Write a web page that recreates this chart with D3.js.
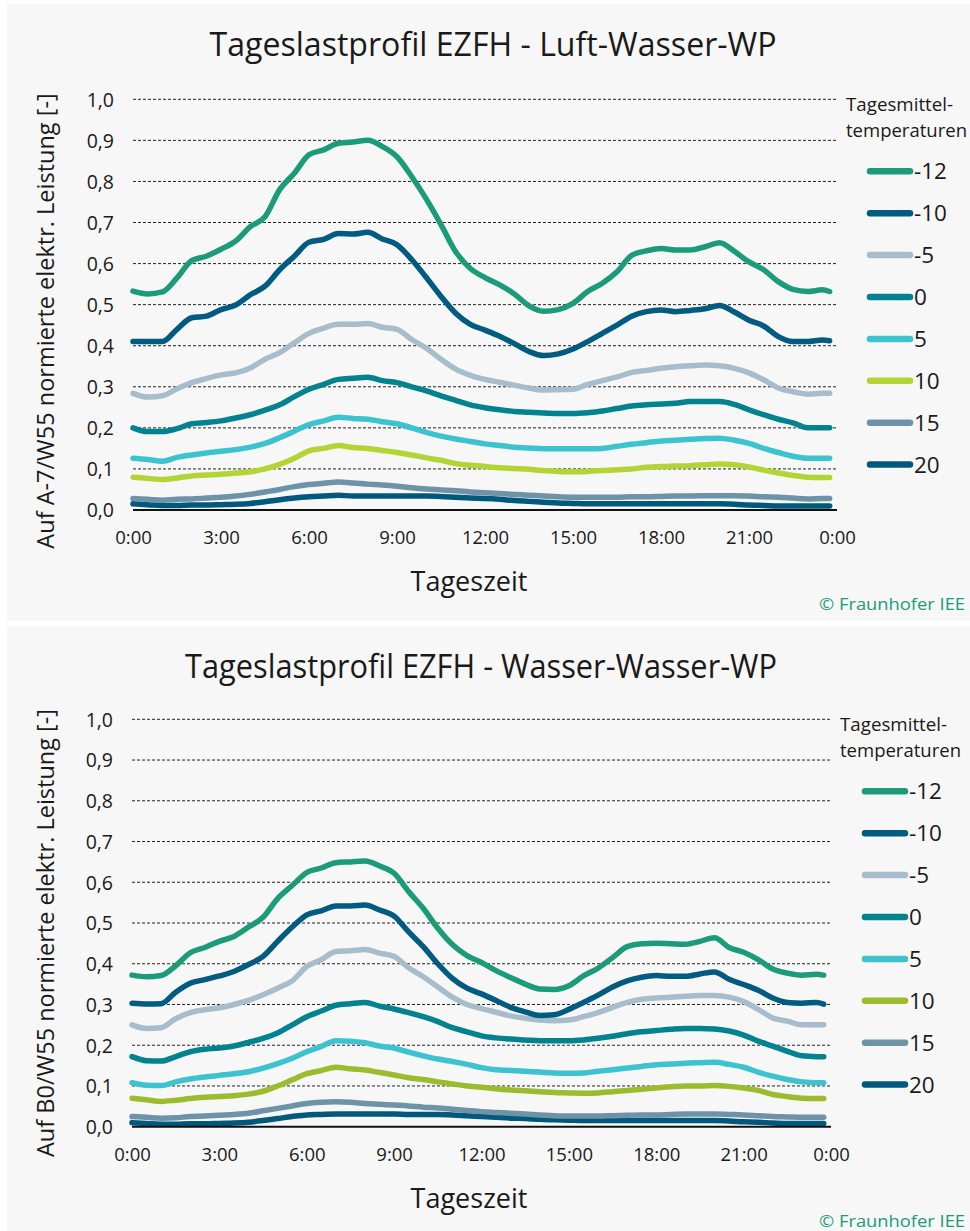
<!DOCTYPE html>
<html>
<head>
<meta charset="utf-8">
<script src="https://cdn.jsdelivr.net/npm/d3@7"></script>
<style>
  html, body { margin: 0; padding: 0; background: #ffffff; }
  svg { display: block; }
  text { font-family: "Open Sans", "Noto Sans", sans-serif; fill: #1a1a1a; }
</style>
</head>
<body>
<svg id="chart" width="970" height="1231"></svg>
<script>
// Zeitachse: halbstündlich, letzter Wert 23:45
const hours = [0,0.5,1,1.5,2,2.5,3,3.5,4,4.5,5,5.5,6,6.5,7,7.5,8,8.5,9,9.5,10,10.5,11,11.5,
  12,12.5,13,13.5,14,14.5,15,15.5,16,16.5,17,17.5,18,18.5,19,19.5,20,20.5,21,21.5,22,22.5,23,23.5,23.75];

const temperatures = ["-12", "-10", "-5", "0", "5", "10", "15", "20"];
const xTickHours = [0, 3, 6, 9, 12, 15, 18, 21, 24];
const xTickLabels = ["0:00", "3:00", "6:00", "9:00", "12:00", "15:00", "18:00", "21:00", "0:00"];
const yTicks = [0, 0.1, 0.2, 0.3, 0.4, 0.5, 0.6, 0.7, 0.8, 0.9, 1.0];

// Luft-Wasser-Wärmepumpe, normiert auf A-7/W55
const lwMinus12 = [0.533,0.526,0.531,0.565,0.607,0.618,0.635,0.655,0.69,0.714,0.78,0.82,0.865,0.877,0.893,0.896,0.9,0.885,0.86,0.812,0.757,0.695,0.629,0.588,
  0.566,0.548,0.526,0.497,0.484,0.488,0.503,0.532,0.552,0.58,0.62,0.631,0.637,0.633,0.633,0.641,0.651,0.63,0.604,0.585,0.556,0.537,0.532,0.536,0.532];
const lwMinus10 = [0.41,0.41,0.41,0.44,0.468,0.472,0.488,0.499,0.524,0.545,0.585,0.618,0.652,0.659,0.673,0.672,0.676,0.66,0.646,0.61,0.566,0.52,0.479,0.452,
  0.438,0.423,0.405,0.386,0.376,0.38,0.392,0.41,0.43,0.45,0.472,0.483,0.487,0.483,0.486,0.49,0.498,0.482,0.462,0.448,0.422,0.41,0.41,0.414,0.412];
const lwMinus5 = [0.284,0.275,0.278,0.295,0.31,0.32,0.329,0.334,0.346,0.367,0.383,0.407,0.43,0.443,0.452,0.452,0.454,0.445,0.44,0.415,0.394,0.367,0.343,0.328,
  0.318,0.311,0.304,0.297,0.292,0.293,0.294,0.306,0.315,0.324,0.335,0.34,0.345,0.349,0.351,0.353,0.351,0.345,0.334,0.317,0.297,0.288,0.282,0.284,0.284];
const lwZero = [0.2,0.191,0.191,0.198,0.21,0.213,0.217,0.224,0.232,0.243,0.256,0.276,0.294,0.306,0.318,0.321,0.323,0.315,0.31,0.3,0.29,0.278,0.267,0.256,
  0.249,0.244,0.24,0.238,0.236,0.235,0.235,0.237,0.241,0.247,0.253,0.256,0.258,0.26,0.264,0.264,0.264,0.257,0.244,0.232,0.221,0.212,0.2,0.2,0.2];
const lwPlus5 = [0.126,0.123,0.119,0.128,0.134,0.139,0.143,0.147,0.153,0.162,0.176,0.192,0.208,0.217,0.226,0.223,0.221,0.215,0.21,0.2,0.189,0.18,0.173,0.167,
  0.161,0.157,0.153,0.151,0.149,0.149,0.149,0.149,0.15,0.155,0.16,0.164,0.168,0.17,0.172,0.174,0.175,0.17,0.162,0.15,0.14,0.131,0.126,0.126,0.126];
const lwPlus10 = [0.08,0.077,0.074,0.078,0.083,0.085,0.087,0.09,0.093,0.1,0.111,0.126,0.144,0.15,0.157,0.152,0.15,0.145,0.14,0.134,0.127,0.121,0.113,0.109,
  0.106,0.103,0.101,0.099,0.096,0.094,0.093,0.094,0.096,0.098,0.1,0.104,0.106,0.107,0.108,0.11,0.112,0.11,0.105,0.097,0.09,0.084,0.08,0.079,0.079];
const lwPlus15 = [0.028,0.026,0.024,0.026,0.027,0.029,0.031,0.034,0.038,0.044,0.05,0.057,0.062,0.065,0.068,0.066,0.063,0.061,0.058,0.054,0.051,0.049,0.047,0.044,
  0.042,0.04,0.038,0.036,0.034,0.032,0.031,0.031,0.031,0.031,0.032,0.032,0.033,0.034,0.034,0.035,0.035,0.035,0.034,0.032,0.031,0.029,0.027,0.028,0.028];
const lwPlus20 = [0.015,0.013,0.011,0.011,0.012,0.012,0.013,0.014,0.016,0.02,0.025,0.029,0.032,0.034,0.036,0.034,0.034,0.034,0.034,0.034,0.034,0.033,0.031,0.029,
  0.028,0.026,0.023,0.021,0.019,0.017,0.016,0.015,0.015,0.015,0.015,0.015,0.015,0.015,0.015,0.015,0.015,0.014,0.012,0.011,0.01,0.01,0.01,0.01,0.01];

// Wasser-Wasser-Wärmepumpe, normiert auf B0/W55
const wwMinus12 = [0.372,0.368,0.371,0.395,0.427,0.44,0.455,0.467,0.49,0.514,0.56,0.592,0.624,0.635,0.648,0.65,0.652,0.64,0.622,0.577,0.536,0.487,0.447,0.42,
  0.403,0.383,0.366,0.35,0.338,0.337,0.346,0.37,0.389,0.415,0.442,0.449,0.45,0.449,0.448,0.455,0.464,0.44,0.428,0.41,0.387,0.377,0.372,0.374,0.372];
const wwMinus10 = [0.303,0.301,0.302,0.33,0.352,0.361,0.37,0.381,0.398,0.418,0.455,0.49,0.52,0.53,0.542,0.542,0.544,0.532,0.517,0.478,0.442,0.4,0.364,0.34,
  0.326,0.31,0.293,0.282,0.273,0.275,0.288,0.305,0.323,0.343,0.358,0.367,0.371,0.369,0.369,0.375,0.38,0.362,0.349,0.335,0.316,0.305,0.303,0.305,0.301];
const wwMinus5 = [0.25,0.241,0.243,0.265,0.28,0.287,0.292,0.3,0.31,0.324,0.34,0.358,0.393,0.41,0.43,0.432,0.435,0.426,0.418,0.39,0.368,0.343,0.318,0.3,
  0.29,0.281,0.272,0.266,0.262,0.26,0.262,0.27,0.28,0.293,0.305,0.313,0.316,0.318,0.32,0.322,0.322,0.318,0.307,0.288,0.267,0.259,0.25,0.25,0.25];
const wwZero = [0.172,0.162,0.161,0.172,0.184,0.19,0.193,0.198,0.207,0.217,0.23,0.25,0.27,0.284,0.298,0.302,0.305,0.296,0.289,0.28,0.27,0.258,0.243,0.233,
  0.223,0.218,0.215,0.213,0.211,0.211,0.211,0.213,0.217,0.222,0.228,0.233,0.236,0.239,0.241,0.241,0.24,0.235,0.225,0.21,0.198,0.185,0.174,0.172,0.172];
const wwPlus5 = [0.108,0.102,0.101,0.11,0.117,0.122,0.126,0.13,0.135,0.144,0.155,0.168,0.184,0.197,0.211,0.21,0.206,0.198,0.193,0.183,0.174,0.166,0.16,0.153,
  0.145,0.14,0.138,0.136,0.134,0.132,0.131,0.132,0.136,0.14,0.144,0.148,0.152,0.154,0.156,0.157,0.158,0.153,0.146,0.134,0.124,0.116,0.11,0.108,0.108];
const wwPlus10 = [0.07,0.066,0.062,0.065,0.069,0.072,0.074,0.076,0.08,0.087,0.1,0.115,0.13,0.138,0.146,0.142,0.139,0.133,0.127,0.12,0.116,0.11,0.105,0.1,
  0.097,0.093,0.09,0.088,0.086,0.084,0.083,0.082,0.083,0.086,0.089,0.092,0.095,0.098,0.1,0.1,0.101,0.099,0.095,0.089,0.079,0.074,0.07,0.069,0.069];
const wwPlus15 = [0.025,0.023,0.021,0.022,0.025,0.026,0.028,0.03,0.033,0.039,0.045,0.051,0.057,0.06,0.061,0.06,0.057,0.055,0.053,0.051,0.048,0.046,0.043,0.04,
  0.037,0.035,0.033,0.031,0.029,0.027,0.026,0.026,0.026,0.027,0.028,0.029,0.029,0.03,0.031,0.031,0.031,0.03,0.029,0.027,0.025,0.024,0.023,0.023,0.023];
const wwPlus20 = [0.01,0.008,0.006,0.006,0.007,0.007,0.008,0.009,0.011,0.015,0.02,0.025,0.029,0.03,0.031,0.031,0.031,0.031,0.031,0.03,0.03,0.03,0.029,0.027,
  0.025,0.023,0.021,0.02,0.018,0.017,0.016,0.015,0.015,0.015,0.015,0.015,0.015,0.015,0.015,0.015,0.015,0.014,0.012,0.011,0.009,0.008,0.008,0.008,0.008];

const lwColors = ["#1b9b7a", "#005b80", "#a8bdcc", "#00828f", "#3cc3cf", "#b4d334", "#6e93a8", "#00597c"];
const wwColors = ["#1b9b7a", "#005b80", "#a8bdcc", "#00828f", "#3cc3cf", "#9dbb2f", "#6e93a8", "#00597c"];

const svg = d3.select("#chart");

function drawPanel(cfg) {
  const g = svg.append("g");

  g.append("rect")
    .attr("x", 7).attr("y", cfg.top)
    .attr("width", 963).attr("height", cfg.height)
    .attr("fill", "#f7f7f7");

  const x = d3.scaleLinear().domain([0, 24]).range([cfg.x0, cfg.x1]);
  const y = d3.scaleLinear().domain([0, 1]).range([cfg.yBase, cfg.yTop]);

  // Titel
  g.append("text")
    .attr("x", cfg.titleX).attr("y", cfg.top + 52)
    .attr("text-anchor", "middle")
    .attr("textLength", cfg.titleWidth)
    .attr("lengthAdjust", "spacingAndGlyphs")
    .style("font-size", "32px")
    .text(cfg.title);

  // Gestrichelte Gitterlinien
  g.append("g")
    .selectAll("line")
    .data(yTicks.filter(d => d > 0))
    .join("line")
    .attr("x1", cfg.x0).attr("x2", cfg.x1)
    .attr("y1", d => y(d)).attr("y2", d => y(d))
    .attr("stroke", "#222")
    .attr("stroke-width", 1)
    .attr("stroke-dasharray", "3,2");

  // Y-Achse (nur Beschriftung)
  const yAxis = d3.axisLeft(y)
    .tickValues(yTicks)
    .tickSize(0)
    .tickPadding(0)
    .tickFormat(d => d3.format(".1f")(d).replace(".", ","));
  const yg = g.append("g").attr("transform", `translate(${cfg.x0 - 19},0)`).call(yAxis);
  yg.select(".domain").remove();
  yg.selectAll("text")
    .style("font-size", "19.5px")
    .style("font-family", "'Open Sans', sans-serif")
    .attr("fill", "#1a1a1a")
    .attr("dy", "0.35em");

  // X-Achse
  const xAxis = d3.axisBottom(x)
    .tickValues(xTickHours)
    .tickSize(0)
    .tickPadding(0)
    .tickFormat((d, i) => xTickLabels[i]);
  const xg = g.append("g").attr("transform", `translate(0,${cfg.yBase})`).call(xAxis);
  xg.select(".domain").remove();
  xg.selectAll("text")
    .style("font-size", "18.5px")
    .style("font-family", "'Open Sans', sans-serif")
    .attr("fill", "#1a1a1a")
    .attr("y", 34)
    .attr("dy", 0);

  // Datenlinien
  const line = d3.line()
    .x((d, i) => x(hours[i]))
    .y(d => y(d))
    .curve(d3.curveMonotoneX);

  g.append("g")
    .selectAll("path")
    .data(cfg.series.slice().reverse())
    .join("path")
    .attr("d", d => line(d.values))
    .attr("fill", "none")
    .attr("stroke", d => d.color)
    .attr("stroke-width", 5.5)
    .attr("stroke-linejoin", "round")
    .attr("stroke-linecap", "round");

  // Nulllinie
  g.append("line")
    .attr("x1", cfg.x0).attr("x2", cfg.x1)
    .attr("y1", y(0)).attr("y2", y(0))
    .attr("stroke", "#111")
    .attr("stroke-width", 2);

  // Achsentitel
  g.append("text")
    .attr("transform", `translate(${cfg.yLabelX},${cfg.yLabelY}) rotate(-90)`)
    .attr("text-anchor", "middle")
    .attr("dy", "0.35em")
    .style("font-size", "23.5px")
    .text(cfg.yLabel);

  g.append("text")
    .attr("x", 469).attr("y", cfg.yBase + 81)
    .attr("text-anchor", "middle")
    .style("font-size", "27px")
    .text("Tageszeit");

  g.append("text")
    .attr("x", 965).attr("y", cfg.yBase + 100)
    .attr("text-anchor", "end")
    .attr("textLength", 146)
    .attr("lengthAdjust", "spacingAndGlyphs")
    .style("font-size", "16.5px")
    .style("fill", "#1b9b7a")
    .text("© Fraunhofer IEE");

  // Legende
  const lg = g.append("g");
  lg.append("text")
    .attr("x", cfg.legendTitleX).attr("y", cfg.yTop + 12)
    .attr("textLength", 107)
    .attr("lengthAdjust", "spacingAndGlyphs")
    .style("font-size", "18.5px")
    .text("Tagesmittel-");
  lg.append("text")
    .attr("x", cfg.legendTitleX).attr("y", cfg.yTop + 38)
    .attr("textLength", 121)
    .attr("lengthAdjust", "spacingAndGlyphs")
    .style("font-size", "18.5px")
    .text("temperaturen");

  const items = lg.selectAll("g.item")
    .data(cfg.series)
    .join("g")
    .attr("class", "item")
    .attr("transform", (d, i) => `translate(${cfg.legendX},${cfg.yTop + 72 + i * 41.9})`);
  items.append("line")
    .attr("x1", 0).attr("x2", 40)
    .attr("stroke", d => d.color)
    .attr("stroke-width", 6.5)
    .attr("stroke-linecap", "round");
  items.append("text")
    .attr("x", 44).attr("y", 0)
    .attr("dy", "0.36em")
    .style("font-size", "22.5px")
    .text(d => d.name);
}

const lwValues = [lwMinus12, lwMinus10, lwMinus5, lwZero, lwPlus5, lwPlus10, lwPlus15, lwPlus20];
const wwValues = [wwMinus12, wwMinus10, wwMinus5, wwZero, wwPlus5, wwPlus10, wwPlus15, wwPlus20];

drawPanel({
  top: 4, height: 617,
  title: "Tageslastprofil EZFH - Luft-Wasser-WP", titleX: 493, titleWidth: 567,
  yLabel: "Auf A-7/W55 normierte elektr. Leistung [-]",
  x0: 133, x1: 837, yTop: 99.3, yBase: 510,
  yLabelX: 46, yLabelY: 321, legendTitleX: 846, legendX: 870,
  series: temperatures.map((t, i) => ({ name: t, values: lwValues[i], color: lwColors[i] }))
});

drawPanel({
  top: 626, height: 605,
  title: "Tageslastprofil EZFH - Wasser-Wasser-WP", titleX: 481, titleWidth: 592,
  yLabel: "Auf B0/W55 normierte elektr. Leistung [-]",
  x0: 132, x1: 831, yTop: 719.3, yBase: 1126.7,
  yLabelX: 46, yLabelY: 933, legendTitleX: 840, legendX: 865,
  series: temperatures.map((t, i) => ({ name: t, values: wwValues[i], color: wwColors[i] }))
});
</script>
</body>
</html>
